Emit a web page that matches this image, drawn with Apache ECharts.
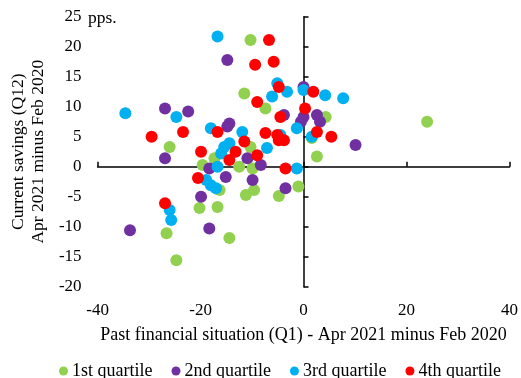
<!DOCTYPE html>
<html>
<head>
<meta charset="utf-8">
<script src="https://cdn.jsdelivr.net/npm/echarts@6/dist/echarts.min.js"></script>
<style>html,body{margin:0;padding:0;background:#fff;}#c{width:521px;height:378px;}</style>
</head>
<body>
<div id="c"></div>
<script>
var seriesNames = ['1st quartile', '2nd quartile', '3rd quartile', '4th quartile'];
var xTicks = [-40, -20, 0, 20, 40];
var yTicks = [-20, -15, -10, -5, 0, 5, 10, 15, 20, 25];

var q1 = [[-10.3,21.1],[-11.5,12.2],[-7.4,9.7],[4.3,8.3],[24.0,7.5],[1.6,4.8],[2.6,1.7],[-26.0,3.3],[-10.3,3.3],[-17.3,1.4],[-19.6,0.3],[-12.5,0],[-9.9,-0.3],[-9.6,-3.9],[-11.2,-4.7],[-4.8,-4.9],[-1.0,-3.3],[-16.3,-3.9],[-20.2,-6.9],[-16.7,-6.7],[-26.6,-11.1],[-24.7,-15.6],[-14.4,-11.9]];
var q2 = [[-14.8,17.8],[-26.9,9.7],[-22.4,9.2],[-14.4,7.2],[-14.8,6.7],[0,13.3],[-3.8,8.6],[0,8.3],[-0.5,7.5],[2.6,8.6],[3.2,7.5],[10.1,3.6],[-26.9,1.4],[-10.9,1.4],[-8.3,0.3],[-18.3,-0.3],[-15.1,-1.7],[-9.9,-2.2],[-3.5,-3.6],[-19.9,-5.0],[-33.7,-10.6],[-18.3,-10.3]];
var q3 = [[-16.7,21.7],[-34.6,8.9],[-24.7,8.3],[-5.1,13.9],[-3.2,12.5],[-6.1,11.7],[0,12.8],[4.2,11.9],[7.7,11.4],[-1.3,6.4],[1.6,5.0],[-18.0,6.4],[-11.9,5.8],[-4.5,5.3],[-7.1,3.1],[-14.4,3.9],[-15.4,3.3],[-16.0,2.2],[-16.7,0],[-1.3,-0.3],[-18.9,-2.2],[-18.0,-3.1],[-17.0,-3.6],[-26.0,-7.2],[-25.7,-8.9]];
var q4 = [[-6.7,21.1],[-9.4,17.0],[-5.8,17.5],[-4.8,13.3],[-9.0,10.8],[1.9,12.5],[0.3,9.7],[-4.5,8.3],[2.6,5.8],[5.4,5.0],[-29.5,5.0],[-23.4,5.8],[-16.7,5.8],[-7.4,5.6],[-5.1,5.3],[-4.8,4.4],[-3.8,4.4],[-11.5,4.2],[-13.2,2.5],[-19.9,2.5],[-9.0,1.9],[-14.4,1.1],[-3.5,-0.3],[-20.5,-1.9],[-26.9,-6.1]];

var colors = ['#92D050', '#7030A0', '#00B0F0', '#FF0000'];
var font = '"Liberation Serif", "Times New Roman", serif';
var allData = [q1, q2, q3, q4];

var chart = echarts.init(document.getElementById('c'), null, {renderer: 'canvas'});
var xMin = xTicks[0], xMax = xTicks[xTicks.length - 1], xStep = xTicks[1] - xTicks[0];
var yMin = yTicks[0], yMax = yTicks[yTicks.length - 1], yStep = yTicks[1] - yTicks[0];

chart.setOption({
  animation: false,
  backgroundColor: '#fff',
  textStyle: {fontFamily: font, color: '#000'},
  grid: {left: 94.7, right: 10.3, top: 16.7, bottom: 91.3, containLabel: false},
  graphic: [{
    type: 'text', left: 88, top: 9,
    style: {text: 'pps.', font: '17.5px ' + font, fill: '#000'}
  }],
  legend: {
    data: seriesNames, left: 54, top: 357, itemGap: 19, itemWidth: 9, itemHeight: 9,
    icon: 'circle',
    textStyle: {fontFamily: font, fontSize: 18, color: '#000', padding: [0,0,0,-1]}
  },
  xAxis: [{
    type: 'value', min: xMin, max: xMax, interval: xStep, position: 'bottom',
    axisLine: {show: false, onZero: false}, axisTick: {show: false}, splitLine: {show: false},
    axisLabel: {fontFamily: font, fontSize: 17, color: '#000', margin: 15},
    name: 'Past financial situation (Q1) - Apr 2021 minus Feb 2020',
    nameLocation: 'middle', nameGap: 39,
    nameTextStyle: {fontFamily: font, fontSize: 18, color: '#000', lineHeight: 20}
  }, {
    type: 'value', min: xMin, max: xMax, interval: xStep, position: 'top',
    axisLine: {show: true, onZero: true, onZeroAxisIndex: 0, lineStyle: {color: '#000', width: 1.5}},
    axisTick: {show: true, inside: false, length: 5, lineStyle: {color: '#000', width: 1.5}},
    axisLabel: {show: false}, splitLine: {show: false}
  }],
  yAxis: [{
    type: 'value', min: yMin, max: yMax, interval: yStep, position: 'left',
    axisLine: {show: false, onZero: false}, axisTick: {show: false}, splitLine: {show: false},
    axisLabel: {fontFamily: font, fontSize: 17, color: '#000', margin: 16},
    name: 'Current savings (Q12)\nApr 2021 minus Feb 2020',
    nameLocation: 'middle', nameGap: 47,
    nameTextStyle: {fontFamily: font, fontSize: 17.5, color: '#000', lineHeight: 20}
  }, {
    type: 'value', min: yMin, max: yMax, interval: yStep, position: 'right',
    axisLine: {show: true, onZero: true, onZeroAxisIndex: 0, lineStyle: {color: '#000', width: 1.5}},
    axisTick: {show: true, inside: false, length: 5, lineStyle: {color: '#000', width: 1.5}},
    axisLabel: {show: false}, splitLine: {show: false}
  }],
  series: seriesNames.map(function (n, i) {
    return {
      name: n, type: 'scatter', xAxisIndex: 0, yAxisIndex: 0,
      data: allData[i], symbol: 'circle', symbolSize: 12,
      itemStyle: {color: colors[i], opacity: 1},
      emphasis: {disabled: true}
    };
  })
});
</script>
</body>
</html>
